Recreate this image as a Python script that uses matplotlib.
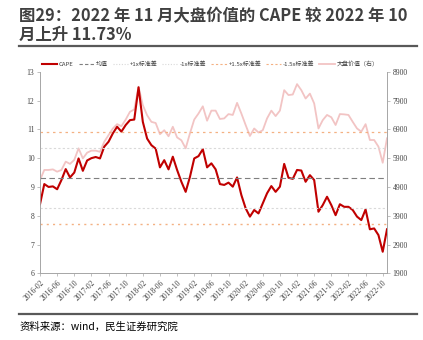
import numpy as np
import pandas as pd
import matplotlib
matplotlib.use('Agg')
import matplotlib.pyplot as plt
from matplotlib.lines import Line2D

plt.rcParams['font.family'] = ['Noto Sans CJK SC', 'DejaVu Sans']

# monthly, 2016-02 .. 2022-11
dates = pd.date_range('2016-02-01', periods=82, freq='MS')

cape = [8.40, 9.10, 9.00, 9.02, 8.92, 9.24, 9.62, 9.33, 9.50, 9.99,
        9.56, 9.92, 10.00, 10.04, 9.99, 10.40, 10.57, 10.86, 11.09, 10.92,
        11.15, 11.32, 11.34, 12.46, 11.26, 10.68, 10.45, 10.33, 9.68, 9.93,
        9.61, 10.05, 9.59, 9.18, 8.83, 9.35, 9.99, 10.07, 10.31, 9.68,
        9.82, 9.61, 9.10, 9.07, 9.15, 9.01, 9.33, 8.72, 8.26, 7.97,
        8.20, 8.08, 8.43, 8.78, 9.03, 8.83, 9.01, 9.80, 9.32, 9.28,
        9.59, 9.57, 9.18, 9.41, 9.24, 8.14, 8.37, 8.66, 8.37, 8.02,
        8.40, 8.31, 8.31, 8.20, 7.97, 7.85, 8.22, 7.53, 7.56, 7.33,
        6.75, 7.53]

# 大盘价值 index (right axis)
value_idx = [5140, 5490, 5490, 5510, 5430, 5490, 5780, 5700, 5840, 6240,
             5890, 6090, 6160, 6160, 6120, 6470, 6700, 6930, 7080, 7010,
             7240, 7510, 7590, 8380, 7740, 7390, 7160, 7120, 6730, 6870,
             6660, 6990, 6620, 6520, 6240, 6760, 7240, 7450, 7700, 7200,
             7550, 7550, 7260, 7280, 7430, 7400, 7820, 7450, 7050, 6670,
             6930, 6790, 6870, 7280, 7550, 7360, 7550, 8260, 8090, 8110,
             8470, 8260, 7970, 8140, 7800, 6930, 7220, 7400, 7320, 7050,
             7430, 7420, 7400, 7160, 6930, 6820, 7080, 6530, 6530, 6300,
             5740, 6590]

cape_mean = 9.31
cape_std = 1.055

red = '#C00000'
pink = '#F2C4C4'
orange = '#F4B183'
grey_d = '#7F7F7F'
grey_l = '#D9D9D9'
num_font = 'Liberation Serif'

fig = plt.figure(figsize=(4.23, 3.40), dpi=100)
ax1 = fig.add_axes([0.0946, 0.196, 0.8203, 0.593])
ax2 = ax1.twinx()
ax1.set_zorder(ax2.get_zorder() + 1)
ax1.patch.set_visible(False)

x = np.arange(len(dates))
ax2.plot(x, value_idx, color=pink, lw=1.3)
ax1.plot(x, cape, color=red, lw=1.5)

ax1.axhline(cape_mean, color=grey_d, lw=0.8, ls=(0, (5, 3)))
ax1.axhline(cape_mean + cape_std, color=grey_l, lw=0.8, ls=(0, (2, 2)))
ax1.axhline(cape_mean - cape_std, color=grey_l, lw=0.8, ls=(0, (2, 2)))
ax1.axhline(cape_mean + 1.5 * cape_std, color=orange, lw=0.9, ls=(0, (2, 3)))
ax1.axhline(cape_mean - 1.5 * cape_std, color=orange, lw=1.0, ls=(0, (1.5, 3)))

ax1.set_xlim(0, len(dates) - 1)
ax1.set_ylim(6, 13)
ax2.set_ylim(1900, 8900)
ax1.set_yticks(range(6, 14))
ax2.set_yticks(range(1900, 8901, 1000))

ticks = x[::4]
ax1.set_xticks(ticks)
ax1.set_xticklabels([dates[i].strftime('%Y-%m') for i in ticks],
                    rotation=45, ha='right', rotation_mode='anchor')

for ax in (ax1, ax2):
    ax.spines['top'].set_visible(False)
    for s in ('left', 'right', 'bottom'):
        ax.spines[s].set_color('#A6A6A6')
        ax.spines[s].set_linewidth(0.6)
    ax.tick_params(labelsize=5.5, length=2, width=0.5, color='#A6A6A6',
                   labelcolor='#404040', pad=2)
    for lab in ax.get_xticklabels() + ax.get_yticklabels():
        lab.set_fontfamily(num_font)

handles = [
    Line2D([], [], color=red, lw=1.5),
    Line2D([], [], color=grey_d, lw=0.8, ls=(0, (3, 2))),
    Line2D([], [], color=grey_l, lw=0.8, ls=(0, (1, 1.5))),
    Line2D([], [], color=grey_l, lw=0.8, ls=(0, (1, 1.5))),
    Line2D([], [], color=orange, lw=0.8, ls=(0, (2, 2))),
    Line2D([], [], color=orange, lw=0.8, ls=(0, (2, 2))),
    Line2D([], [], color=pink, lw=1.3),
]
labels = ['CAPE', '均值', '+1x标准差', '-1x标准差', '+1.5x标准差',
          '-1.5x标准差', '大盘价值（右）']
fig.legend(handles, labels, loc='center', bbox_to_anchor=(0.497, 0.812),
           ncol=7, frameon=False, fontsize=4.3, handlelength=2.6,
           handletextpad=0.3, columnspacing=0.8, labelcolor='#404040')

fig.text(0.045, 0.978, '图29：2022 年 11 月大盘价值的 CAPE 较 2022 年 10\n月上升 11.73%',
         ha='left', va='top', fontsize=11.8, fontweight='bold', color='#404040',
         linespacing=1.05)
fig.add_artist(Line2D([0.045, 0.985], [0.866, 0.866], color='#595959', lw=1.6))
fig.add_artist(Line2D([0.045, 0.985], [0.077, 0.077], color='#595959', lw=1.6))
fig.text(0.045, 0.04, '资料来源：wind，民生证券研究院', ha='left', va='center',
         fontsize=7.5, color='#000000')

fig.savefig('out.png', dpi=100)
